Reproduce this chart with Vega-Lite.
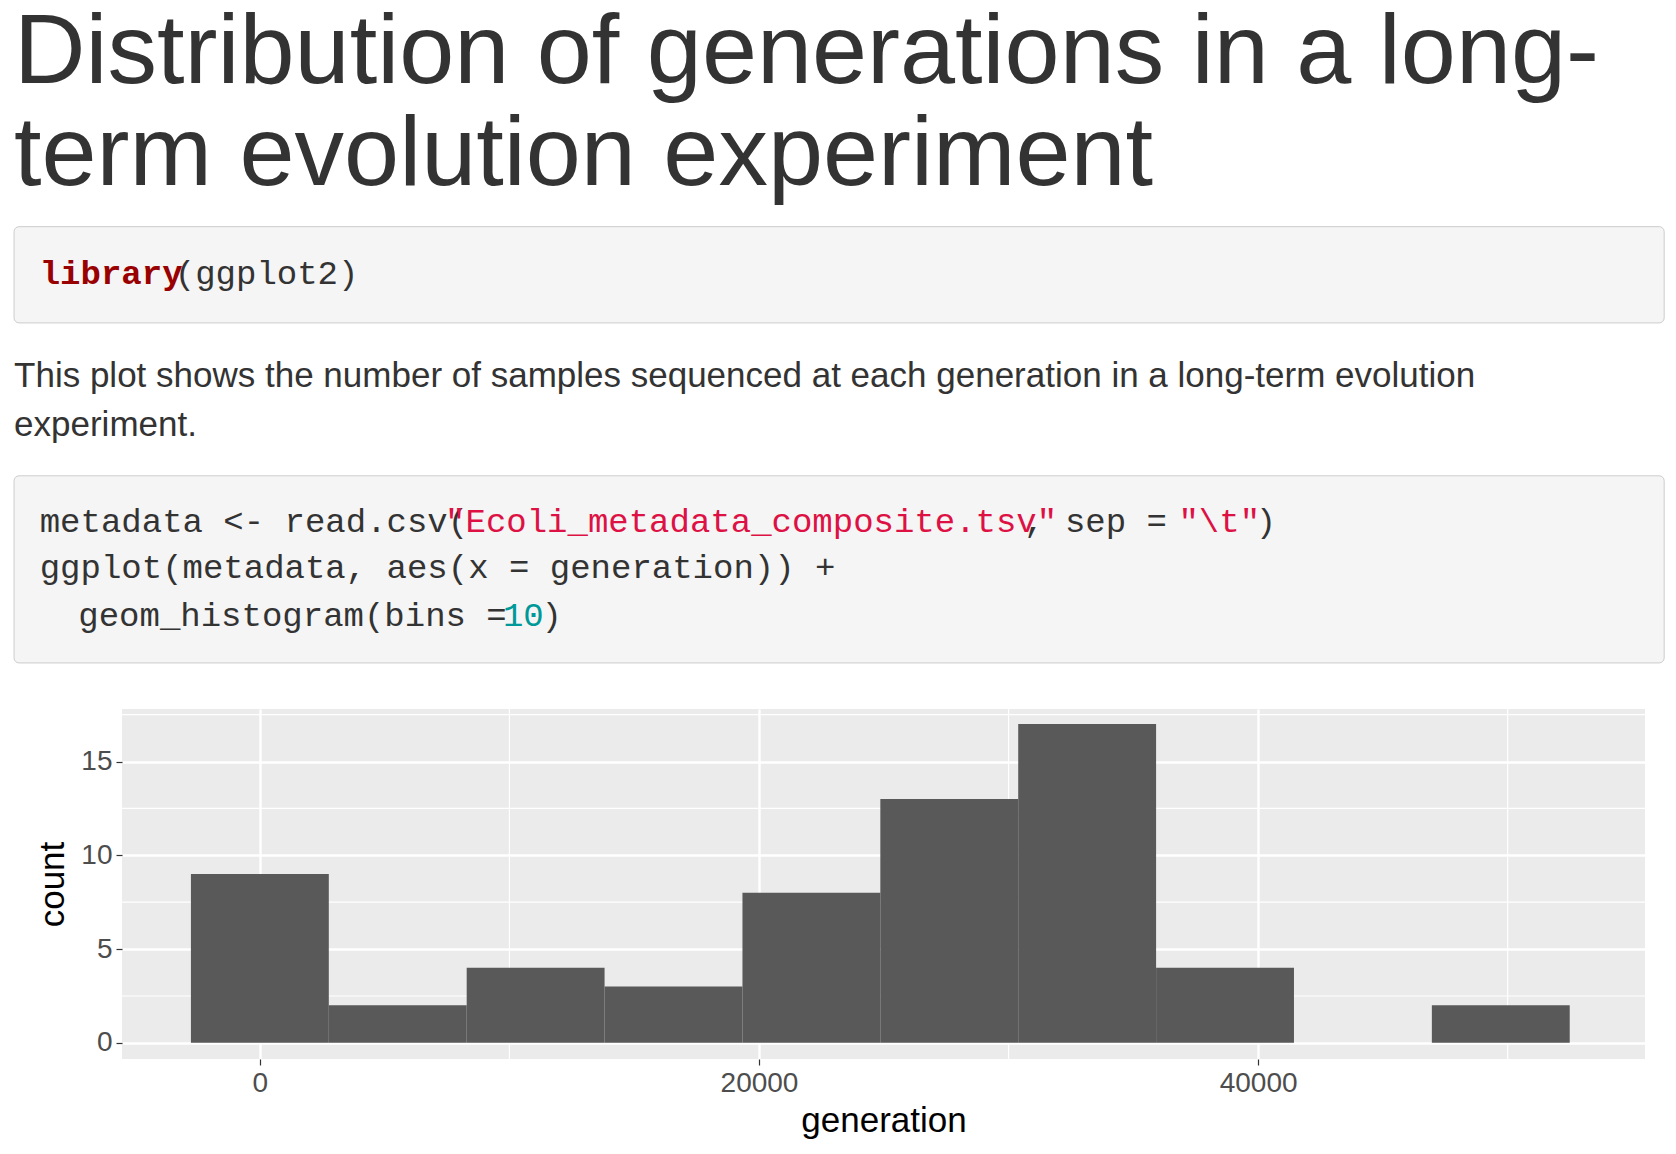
{
  "$schema": "https://vega.github.io/schema/vega-lite/v6.json",
  "background": "white",
  "padding": {"left": 13, "top": 0, "right": 0, "bottom": 4},
  "autosize": {"type": "pad"},
  "bounds": "flush",
  "spacing": 14,
  "config": {"view": {"stroke": null}},
  "vconcat": [
    {
      "width": 1555,
      "height": 695,
      "data": {"values": [
        {"kind": "title", "x": 12, "y": 78, "text": "Distribution of generations in a long-"},
        {"kind": "title", "x": 12, "y": 173, "text": "term evolution experiment"},
        {"kind": "para", "x": 12, "y": 362, "text": "This plot shows the number of samples sequenced at each generation in a long-term evolution"},
        {"kind": "para", "x": 12, "y": 408, "text": "experiment."},
        {"kind": "keyword", "x": 36, "y": 266, "text": "library"},
        {"kind": "code", "x": 162.4, "y": 266, "text": "(ggplot2)"},
        {"kind": "code", "x": 36, "y": 498, "text": "metadata <- read.csv("},
        {"kind": "string", "x": 415.3, "y": 498, "text": "\"Ecoli_metadata_composite.tsv\""},
        {"kind": "code", "x": 957.1, "y": 498, "text": ", sep ="},
        {"kind": "string", "x": 1101.5, "y": 498, "text": "\"\\t\""},
        {"kind": "code", "x": 1173.8, "y": 498, "text": ")"},
        {"kind": "code", "x": 36, "y": 541, "text": "ggplot(metadata, aes(x = generation)) +"},
        {"kind": "code", "x": 72.1, "y": 585, "text": "geom_histogram(bins ="},
        {"kind": "number", "x": 469.4, "y": 585, "text": "10"},
        {"kind": "code", "x": 505.6, "y": 585, "text": ")"}
      ]},
      "layer": [
        {
          "data": {"values": [
            {"x": 12, "x2": 1556, "y": 212, "y2": 302},
            {"x": 12, "x2": 1556, "y": 445, "y2": 620}
          ]},
          "mark": {"type": "rect", "fill": "#F5F5F5", "stroke": "#CCCCCC", "strokeWidth": 1, "cornerRadius": 5},
          "encoding": {
            "x": {"field": "x", "type": "quantitative", "scale": {"domain": [113, 1568], "zero": false, "nice": false}, "axis": null},
            "x2": {"field": "x2"},
            "y": {"field": "y", "type": "quantitative", "scale": {"domain": [0, 650], "reverse": true, "zero": false, "nice": false}, "axis": null},
            "y2": {"field": "y2"}
          }
        },
        {
          "transform": [{"filter": "datum.kind == 'title'"}],
          "mark": {"type": "text", "align": "left", "baseline": "alphabetic", "font": "Liberation Sans", "fontSize": 99, "color": "#333333"},
          "encoding": {
            "x": {"field": "x", "type": "quantitative"},
            "y": {"field": "y", "type": "quantitative"},
            "text": {"field": "text"}
          }
        },
        {
          "transform": [{"filter": "datum.kind == 'para'"}],
          "mark": {"type": "text", "align": "left", "baseline": "alphabetic", "font": "Liberation Sans", "fontSize": 35, "color": "#333333"},
          "encoding": {
            "x": {"field": "x", "type": "quantitative"},
            "y": {"field": "y", "type": "quantitative"},
            "text": {"field": "text"}
          }
        },
        {
          "transform": [{"filter": "datum.kind == 'code'"}],
          "mark": {"type": "text", "align": "left", "baseline": "alphabetic", "font": "Liberation Mono", "fontSize": 34, "color": "#333333"},
          "encoding": {
            "x": {"field": "x", "type": "quantitative"},
            "y": {"field": "y", "type": "quantitative"},
            "text": {"field": "text"}
          }
        },
        {
          "transform": [{"filter": "datum.kind == 'keyword'"}],
          "mark": {"type": "text", "align": "left", "baseline": "alphabetic", "font": "Liberation Mono", "fontSize": 34, "fontWeight": "bold", "color": "#990000"},
          "encoding": {
            "x": {"field": "x", "type": "quantitative"},
            "y": {"field": "y", "type": "quantitative"},
            "text": {"field": "text"}
          }
        },
        {
          "transform": [{"filter": "datum.kind == 'string'"}],
          "mark": {"type": "text", "align": "left", "baseline": "alphabetic", "font": "Liberation Mono", "fontSize": 34, "color": "#DD1144"},
          "encoding": {
            "x": {"field": "x", "type": "quantitative"},
            "y": {"field": "y", "type": "quantitative"},
            "text": {"field": "text"}
          }
        },
        {
          "transform": [{"filter": "datum.kind == 'number'"}],
          "mark": {"type": "text", "align": "left", "baseline": "alphabetic", "font": "Liberation Mono", "fontSize": 34, "color": "#009999"},
          "encoding": {
            "x": {"field": "x", "type": "quantitative"},
            "y": {"field": "y", "type": "quantitative"},
            "text": {"field": "text"}
          }
        }
      ]
    },
    {
      "width": 1523,
      "height": 350,
      "view": {"fill": "#EBEBEB", "stroke": null},
      "layer": [
        {
          "data": {"values": [{"g": 10000}, {"g": 30000}, {"g": 50000}]},
          "mark": {"type": "rule", "color": "white", "strokeWidth": 1.2},
          "encoding": {"x": {"field": "g", "type": "quantitative", "scale": {"domain": [-5525, 55503], "zero": false, "nice": false}}}
        },
        {
          "data": {"values": [{"c": 2.5}, {"c": 7.5}, {"c": 12.5}, {"c": 17.5}]},
          "mark": {"type": "rule", "color": "white", "strokeWidth": 1.2},
          "encoding": {"y": {"field": "c", "type": "quantitative", "scale": {"domain": [-0.86, 17.8], "zero": false, "nice": false}}}
        },
        {
          "data": {"values": [
            {"bin_start": -2763, "bin_end": 2762, "count": 9},
            {"bin_start": 2762, "bin_end": 8287, "count": 2},
            {"bin_start": 8287, "bin_end": 13812, "count": 4},
            {"bin_start": 13812, "bin_end": 19337, "count": 3},
            {"bin_start": 19337, "bin_end": 24862, "count": 8},
            {"bin_start": 24862, "bin_end": 30387, "count": 13},
            {"bin_start": 30387, "bin_end": 35912, "count": 17},
            {"bin_start": 35912, "bin_end": 41437, "count": 4},
            {"bin_start": 41437, "bin_end": 46962, "count": 0},
            {"bin_start": 46962, "bin_end": 52487, "count": 2}
          ]},
          "mark": {"type": "rect", "fill": "#595959"},
          "encoding": {
            "x": {"field": "bin_start", "type": "quantitative", "title": "generation",
              "axis": {"values": [0, 20000, 40000], "format": "d", "domain": false, "grid": true, "gridColor": "white", "gridWidth": 2.4,
                "tickColor": "#333333", "tickSize": 6, "tickWidth": 1.2, "labelFont": "Liberation Sans", "labelFontSize": 28, "labelColor": "#4D4D4D", "labelPadding": 4,
                "titleFont": "Liberation Sans", "titleFontSize": 35, "titleFontWeight": "normal", "titleColor": "black", "titlePadding": 6}},
            "x2": {"field": "bin_end"},
            "y": {"field": "count", "type": "quantitative", "title": "count",
              "axis": {"values": [0, 5, 10, 15], "domain": false, "grid": true, "gridColor": "white", "gridWidth": 2.4,
                "tickColor": "#333333", "tickSize": 6, "tickWidth": 1.2, "labelFont": "Liberation Sans", "labelFontSize": 28, "labelColor": "#4D4D4D", "labelPadding": 4,
                "titleFont": "Liberation Sans", "titleFontSize": 35, "titleFontWeight": "normal", "titleColor": "black", "titlePadding": 10}},
            "y2": {"datum": 0}
          }
        }
      ]
    }
  ]
}
